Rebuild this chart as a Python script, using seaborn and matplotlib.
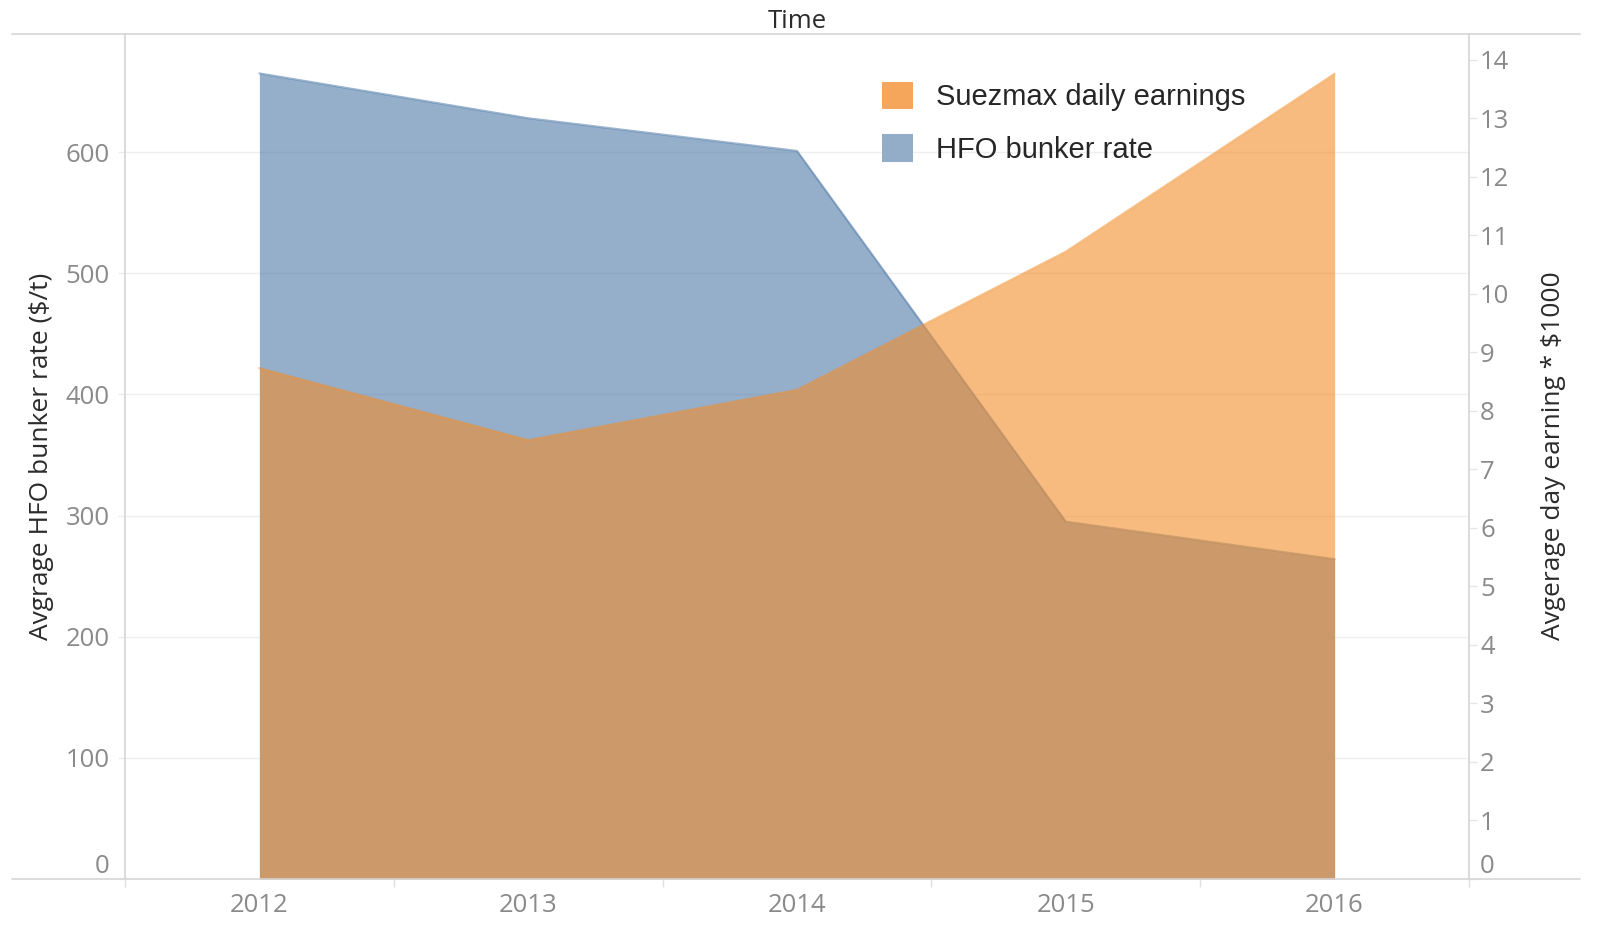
import numpy as np
import pandas as pd
import matplotlib
matplotlib.use("Agg")
import matplotlib.pyplot as plt
import matplotlib.patches as mpatches
from matplotlib.lines import Line2D
import seaborn as sns

# data
years = [2012, 2013, 2014, 2015, 2016]
hfo_rate = [665, 628, 601, 295, 264]          # $/t, left axis
suezmax_earn = [8.73, 7.50, 8.36, 10.72, 13.76]  # *$1000, right axis
left_ticks = [0, 100, 200, 300, 400, 500, 600]
right_ticks = list(range(0, 15))

df = pd.DataFrame({"year": years, "hfo": hfo_rate, "earn": suezmax_earn})

sns.set_theme(style="white")
plt.rcParams["font.family"] = ["Open Sans", "DejaVu Sans"]

blue = "#4E79A7"
orange = "#F28E2B"
tick_col = "#8a8a8a"
line_col = "#d6d6d6"
label_col = "#2b2b2b"

fig = plt.figure(figsize=(16, 9.36), dpi=100)
ax = fig.add_axes([125 / 1600, 1 - 879 / 936, 1344 / 1600, 845 / 936])
ax2 = ax.twinx()

# blue area (left axis)
ax.fill_between(df["year"], df["hfo"], 0, facecolor=blue, alpha=0.6, lw=0)
sns.lineplot(data=df, x="year", y="hfo", ax=ax, color=blue, alpha=0.55, lw=1.5)

# orange area (right axis), drawn on top
ax2.fill_between(df["year"], df["earn"], 0, facecolor=orange, alpha=0.6, lw=0)
sns.lineplot(data=df, x="year", y="earn", ax=ax2, color=orange, alpha=0.55, lw=1.5)

ax.set_xlim(2011.5, 2016.5)
ax.set_ylim(0, 697.5)
ax2.set_ylim(0, 14.44)

ax.set_xlabel("")
ax.set_ylabel("")
ax2.set_xlabel("")
ax2.set_ylabel("")

ax.set_xticks(years)
ax.set_xticks([y + 0.5 for y in [2011] + years], minor=True)
ax.set_yticks(left_ticks)
ax2.set_yticks(right_ticks)

ax.yaxis.grid(True, color="#efefef", lw=1)
ax.xaxis.grid(False)
ax2.grid(False)

ax.tick_params(axis="x", which="major", length=0, pad=10, labelsize=18.5, labelcolor=tick_col)
ax.tick_params(axis="x", which="minor", length=6, width=1, color="#e0e0e0", bottom=True)
ax.tick_params(axis="y", length=5, width=1, color="#ececec", pad=6, labelsize=18.5,
               labelcolor=tick_col, left=True)
ax2.tick_params(axis="y", length=6, width=1, color="#e6e6e6", pad=2, labelsize=18.5,
                labelcolor=tick_col, right=True)

# Tableau nudges the 0 labels up so they sit above the baseline
ax.get_yticklabels()[0].set_va("bottom")
ax2.get_yticklabels()[0].set_va("bottom")

for a in (ax, ax2):
    for s in ("top", "bottom"):
        a.spines[s].set_visible(False)
ax.spines["left"].set_color(line_col)
ax.spines["right"].set_visible(False)
ax2.spines["left"].set_visible(False)
ax2.spines["right"].set_color(line_col)

# full-width rules above and below the plot
for yy in (34, 879):
    fig.add_artist(Line2D([12 / 1600, 1580 / 1600], [1 - yy / 936] * 2,
                          transform=fig.transFigure, color=line_col, lw=1.2))

fig.text(797 / 1600, 1 - 21 / 936, "Time", ha="center", va="center",
         fontsize=18.5, color=label_col)
fig.text(42 / 1600, 1 - 456 / 936, "Avgrage HFO bunker rate ($/t)", rotation=90,
         ha="center", va="center", fontsize=19, color=label_col)
fig.text(1554 / 1600, 1 - 456 / 936, "Avgerage day earning * $1000", rotation=90,
         ha="center", va="center", fontsize=19, color=label_col)

handles = [mpatches.Patch(facecolor="#F5A65A", edgecolor="none", label="Suezmax daily earnings"),
           mpatches.Patch(facecolor="#93ADC9", edgecolor="none", label="HFO bunker rate")]
fig.legend(handles=handles, loc="upper left", bbox_to_anchor=(882 / 1600, 1 - 81.5 / 936),
           frameon=False, prop={"family": "Liberation Sans", "size": 21},
           handlelength=1.06, handleheight=1.06, handletextpad=0.8,
           labelspacing=0.8, borderpad=0, borderaxespad=0)

fig.savefig("out.png", dpi=100)
